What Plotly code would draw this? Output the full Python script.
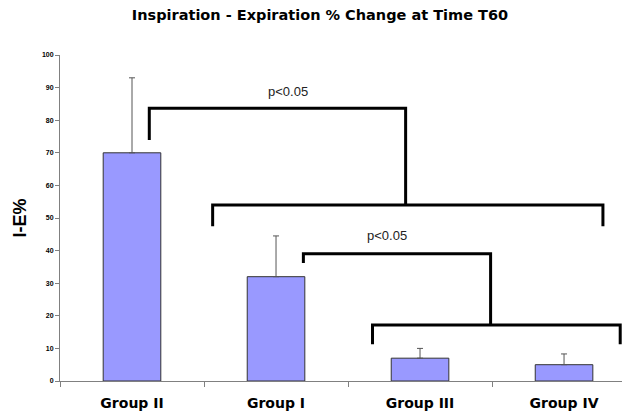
import plotly.graph_objects as go

categories = ["Group II", "Group I", "Group III", "Group IV"]
values = [70, 32, 7, 5]
errors = [23, 12.5, 3, 3.3]
y_ticks = list(range(0, 101, 10))

# significance brackets (x in category index units, y in data units)
bracket_upper = [(0.12, 73.9, 83.7, 1.90), (1.19, 36.2, 39.0, 2.49)]
bracket_lower = [(0.56, 3.27, 54.0, 47.5), (1.67, 3.39, 17.2, 11.3)]
bracket_labels = [(1.08, 88.7, "p<0.05"), (1.77, 44.5, "p<0.05")]

fig = go.Figure()
fig.add_trace(go.Bar(
    x=categories, y=values, width=0.4,
    marker=dict(color="#9999FF", line=dict(color="#333333", width=1)),
    error_y=dict(type="data", array=errors, arrayminus=[0] * len(errors),
                 symmetric=False, color="#555555", thickness=1, width=3),
))

shapes = []
for (xl, yb, yt, xj), (lx0, lx1, ly, lye) in zip(bracket_upper, bracket_lower):
    shapes.append(dict(type="path", xref="x", yref="y",
                       path=f"M {xl},{yb} L {xl},{yt} L {xj},{yt} L {xj},{ly}",
                       line=dict(color="black", width=3)))
    shapes.append(dict(type="path", xref="x", yref="y",
                       path=f"M {lx0},{lye} L {lx0},{ly} L {lx1},{ly} L {lx1},{lye}",
                       line=dict(color="black", width=3)))

annotations = [dict(x=x, y=y, text=t, showarrow=False, xref="x", yref="y",
                    font=dict(family="Liberation Sans", size=13, color="#222222"))
               for x, y, t in bracket_labels]

fig.update_layout(
    width=622, height=407,
    margin=dict(l=52, r=0, t=47, b=34),
    paper_bgcolor="white", plot_bgcolor="white",
    showlegend=False,
    shapes=shapes, annotations=annotations,
    title=dict(text="Inspiration - Expiration % Change at Time T60",
               x=0.5016, xanchor="center", y=0.983, yanchor="middle",
               font=dict(family="DejaVu Sans", size=14.5, color="black", weight="bold")),
    xaxis=dict(type="category", range=[-0.5, 3.458],
               tickson="boundaries", ticks="outside", ticklen=5, tickcolor="#808080",
               showline=True, linecolor="#808080", linewidth=1, showgrid=False,
               zeroline=False, ticklabelstandoff=9, automargin=False,
               tickfont=dict(family="DejaVu Sans", size=14, color="black", weight="bold")),
    yaxis=dict(range=[0, 100], tickvals=y_ticks, ticks="outside", ticklen=4,
               tickcolor="#808080", showline=True, linecolor="#808080", linewidth=1,
               showgrid=False, zeroline=False, automargin=False,
               tickfont=dict(family="Liberation Sans", size=7, color="black", weight="bold"),
               title=dict(text="I-E%", standoff=10,
                          font=dict(family="Liberation Sans", size=18, color="black", weight="bold"))),
)

fig.write_html("out.html")
